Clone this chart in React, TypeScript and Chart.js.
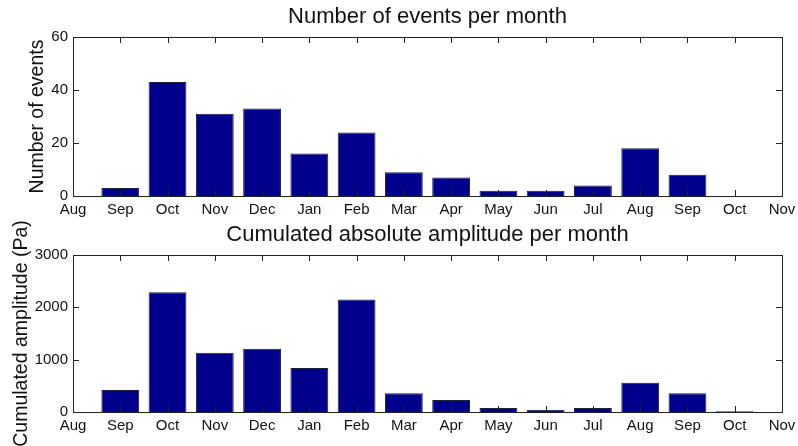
import React, { useEffect, useRef } from "react";
import { Chart, registerables } from "chart.js";
Chart.register(...registerables);

const months = ["Aug", "Sep", "Oct", "Nov", "Dec", "Jan", "Feb", "Mar", "Apr", "May", "Jun", "Jul", "Aug", "Sep", "Oct", "Nov"];
const eventCounts = [null, 3, 43, 31, 33, 16, 24, 9, 7, 2, 2, 4, 18, 8, 0, null];
const amplitudes = [null, 420, 2290, 1130, 1210, 840, 2150, 360, 230, 75, 45, 75, 560, 360, 12, null];
const eventTicks = [0, 20, 40, 60];
const amplitudeTicks = [0, 1000, 2000, 3000];

const FONT = "'Liberation Sans', Arial, Helvetica, sans-serif";
const TEXT = "#111";
const W = 798;
const H = 446;

const framePlugin = {
  id: "matlabFrame",
  afterDraw(chart: any) {
    const { ctx, chartArea: a, scales } = chart;
    ctx.save();
    ctx.strokeStyle = "#222";
    ctx.lineWidth = 1;
    const L = 6;
    const line = (x1: number, y1: number, x2: number, y2: number) => {
      ctx.beginPath();
      ctx.moveTo(x1, y1);
      ctx.lineTo(x2, y2);
      ctx.stroke();
    };
    const xs = scales.x;
    xs.ticks.forEach((_: any, i: number) => {
      const px = Math.round(xs.getPixelForTick(i)) + 0.5;
      line(px, a.bottom, px, a.bottom - L);
      line(px, a.top, px, a.top + L);
    });
    const ys = scales.y;
    ys.ticks.forEach((_: any, i: number) => {
      const py = Math.round(ys.getPixelForTick(i)) + 0.5;
      line(a.left, py, a.left + L, py);
      line(a.right, py, a.right - L, py);
    });
    ctx.strokeRect(Math.round(a.left) + 0.5, Math.round(a.top) + 0.5, Math.round(a.right - a.left), Math.round(a.bottom - a.top));
    ctx.restore();
  },
};

function makeConfig(opts: {
  data: (number | null)[];
  tickValues: number[];
  title: string;
  yTitle: string;
  layoutTop: number;
  layoutBottom: number;
  titlePadTop: number;
  titlePadBottom: number;
  xHeight: number;
  yTitlePad: number;
}): any {
  const tv = opts.tickValues;
  return {
    type: "bar",
    data: {
      labels: months,
      datasets: [
        {
          data: opts.data,
          backgroundColor: "rgb(0,0,140)",
          borderColor: "#202036",
          borderWidth: 1,
          barPercentage: 0.8,
          categoryPercentage: 1,
        },
      ],
    },
    options: {
      responsive: false,
      animation: false,
      devicePixelRatio: 1,
      layout: { padding: { left: 0, right: 16, top: opts.layoutTop, bottom: opts.layoutBottom } },
      plugins: {
        legend: { display: false },
        tooltip: { enabled: false },
        title: {
          display: true,
          text: opts.title,
          fullSize: false,
          color: TEXT,
          font: { family: FONT, size: 22, weight: "normal", lineHeight: 1.2 },
          padding: { top: opts.titlePadTop, bottom: opts.titlePadBottom },
        },
      },
      scales: {
        x: {
          type: "category",
          offset: false,
          grid: { display: false, drawTicks: false },
          border: { display: false },
          ticks: {
            autoSkip: false,
            maxRotation: 0,
            minRotation: 0,
            padding: 5,
            color: TEXT,
            font: { family: FONT, size: 15 },
          },
          afterFit: (s: any) => {
            s.height = opts.xHeight;
            s.paddingLeft = 0;
            s.paddingRight = 0;
          },
        },
        y: {
          min: tv[0],
          max: tv[tv.length - 1],
          afterBuildTicks: (s: any) => {
            s.ticks = tv.map((v) => ({ value: v }));
          },
          grid: { display: false, drawTicks: false },
          border: { display: false },
          ticks: {
            padding: 5,
            color: TEXT,
            font: { family: FONT, size: 15 },
            callback: (v: any) => String(v),
          },
          title: {
            display: true,
            text: opts.yTitle,
            color: TEXT,
            font: { family: FONT, size: 19.5, lineHeight: 1.2 },
            padding: { top: opts.yTitlePad, bottom: 0 },
          },
          afterFit: (s: any) => {
            s.width = 73;
            s.paddingTop = 0;
            s.paddingBottom = 0;
          },
        },
      },
    },
    plugins: [framePlugin],
  };
}

function ChartCanvas({ config }: { config: any }) {
  const ref = useRef<HTMLCanvasElement | null>(null);
  useEffect(() => {
    if (!ref.current) return;
    const chart = new Chart(ref.current, config);
    return () => chart.destroy();
  }, [config]);
  return (
    <canvas
      ref={ref}
      width={W}
      height={H}
      style={{ position: "absolute", left: 0, top: 0, width: W, height: H }}
    />
  );
}

const topConfig = makeConfig({
  data: eventCounts,
  tickValues: eventTicks,
  title: "Number of events per month",
  yTitle: "Number of events",
  layoutTop: 0,
  layoutBottom: H - 196 - 26,
  titlePadTop: 3.8,
  titlePadBottom: 6.8,
  xHeight: 26,
  yTitlePad: 25.8,
});

const bottomConfig = makeConfig({
  data: amplitudes,
  tickValues: amplitudeTicks,
  title: "Cumulated absolute amplitude per month",
  yTitle: "Cumulated amplitude (Pa)",
  layoutTop: 221.8,
  layoutBottom: H - 412 - 30,
  titlePadTop: 0,
  titlePadBottom: 6.8,
  xHeight: 30,
  yTitlePad: 10.3,
});

export default function App() {
  useEffect(() => {
    document.body.style.margin = "0";
  }, []);
  return (
    <div style={{ position: "absolute", left: 0, top: 0, width: W, height: H, background: "#fff" }}>
      <ChartCanvas config={topConfig} />
      <ChartCanvas config={bottomConfig} />
    </div>
  );
}
